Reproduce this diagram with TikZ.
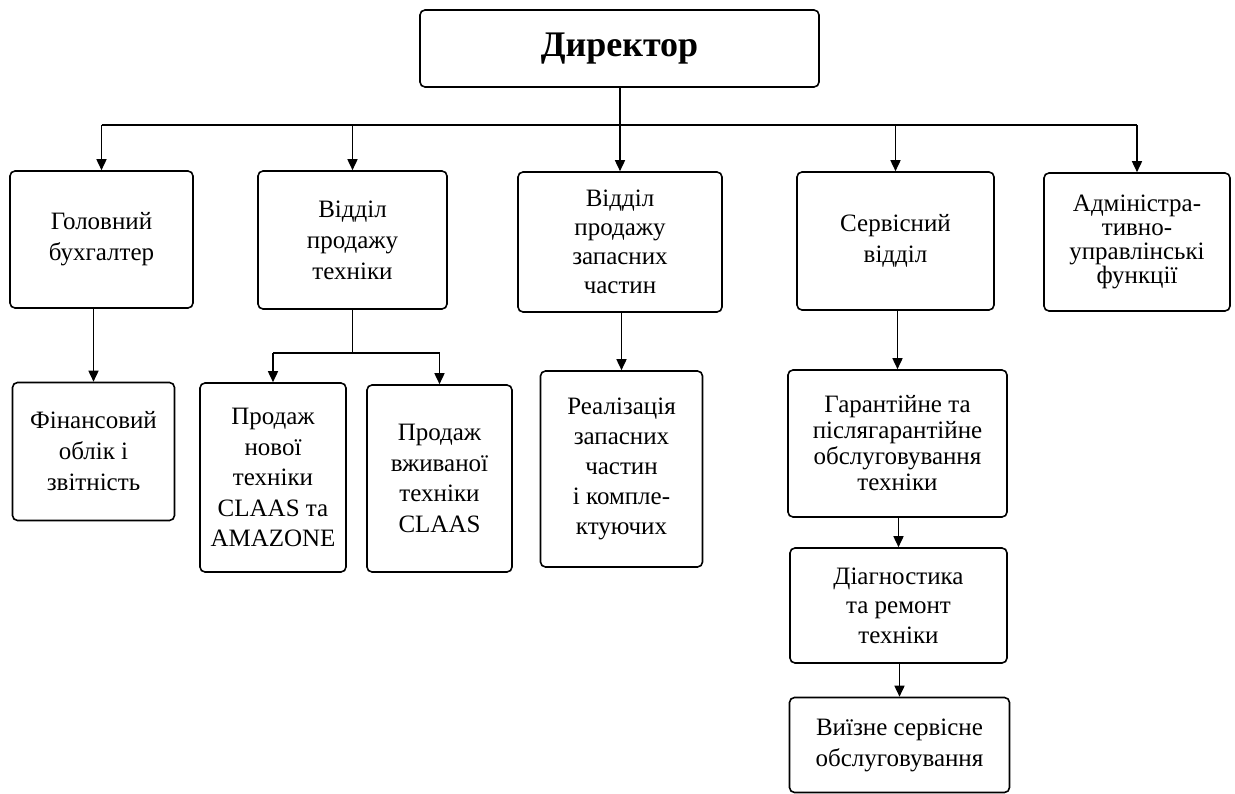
\documentclass[tikz,border=0pt]{standalone}
\usepackage{fontspec}
\setmainfont{Liberation Serif}
\usetikzlibrary{arrows.meta}
\begin{document}
\begin{tikzpicture}[x=1pt,y=-1pt,
  box/.style={draw, line width=1.6pt, rounded corners=5pt, align=center, inner sep=0pt, font=\fontsize{25}{31}\selectfont},
  conn/.style={line width=1.6pt},
  arr/.style={line width=1.6pt, -{Triangle[width=10pt,length=11pt]}}]
\useasboundingbox (0,0) rectangle (1235,794);
\fill[white] (0,0) rectangle (1235,794);
% top
\node[box, minimum width=399pt, minimum height=77pt, font=\fontsize{36}{40}\selectfont\bfseries] (dir) at (619.5,48.5) {Директор};
% row 1
\node[box, minimum width=183pt, minimum height=137pt] (buh) at (101.5,239.5) {Головний\\бухгалтер};
\node[box, minimum width=189pt, minimum height=138pt] (vpt) at (352.5,240) {Відділ\\продажу\\техніки};
\node[box, minimum width=204pt, minimum height=140pt, font=\fontsize{25}{29}\selectfont] (vpz) at (620,242) {Відділ\\продажу\\запасних\\частин};
\node[box, minimum width=197pt, minimum height=138pt] (ser) at (895.5,241) {Сервісний\\відділ};
\node[box, minimum width=186pt, minimum height=138pt, font=\fontsize{25}{24}\selectfont] (adm) at (1137,242) {Адміністра-\\тивно-\\управлінські\\функції};
% row 2
\node[box, minimum width=162pt, minimum height=138pt] (fin) at (93.5,451.5) {Фінансовий\\облік і\\звітність};
\node[box, minimum width=146pt, minimum height=189pt, font=\fontsize{25}{30.5}\selectfont] (nov) at (273,477.5) {Продаж\\нової\\техніки\\CLAAS та\\AMAZONE};
\node[box, minimum width=145pt, minimum height=187pt, font=\fontsize{25}{30.5}\selectfont] (vzh) at (439.5,478.5) {Продаж\\вживаної\\техніки\\CLAAS};
\node[box, minimum width=162pt, minimum height=196pt, font=\fontsize{25}{30}\selectfont] (rea) at (621.5,469) {Реалізація\\запасних\\частин\\і компле-\\ктуючих};
\node[box, minimum width=219pt, minimum height=147pt, font=\fontsize{25}{26}\selectfont] (gar) at (897.5,443.5) {Гарантійне та\\післягарантійне\\обслуговування\\техніки};
\node[box, minimum width=217pt, minimum height=115pt, font=\fontsize{25}{29.5}\selectfont] (dia) at (898.5,605.5) {Діагностика\\та ремонт\\техніки};
\node[box, minimum width=220pt, minimum height=95pt] (vyi) at (899.5,745) {Виїзне сервісне\\обслуговування};
% connectors
\coordinate (bus) at (0,125);
\coordinate (br) at (0,353);
\draw[conn] (buh.north |- bus) -- (adm.north |- bus);
\draw[arr] (vpz.north |- dir.south) -- (vpz.north);
\draw[arr] (buh.north |- bus) -- (buh.north);
\draw[arr] (vpt.north |- bus) -- (vpt.north);
\draw[arr] (ser.north |- bus) -- (ser.north);
\draw[arr] (adm.north |- bus) -- (adm.north);
\draw[arr] (fin.north |- buh.south) -- (fin.north);
\draw[conn] (vpt.south) -- (vpt.south |- br);
\draw[conn] (nov.north |- br) -- (vzh.north |- br);
\draw[arr] (nov.north |- br) -- (nov.north);
\draw[arr] (vzh.north |- br) -- (vzh.north);
\draw[arr] (rea.north |- vpz.south) -- (rea.north);
\draw[arr] (gar.north |- ser.south) -- (gar.north);
\draw[arr] (dia.north |- gar.south) -- (dia.north);
\draw[arr] (vyi.north |- dia.south) -- (vyi.north);
\end{tikzpicture}
\end{document}
